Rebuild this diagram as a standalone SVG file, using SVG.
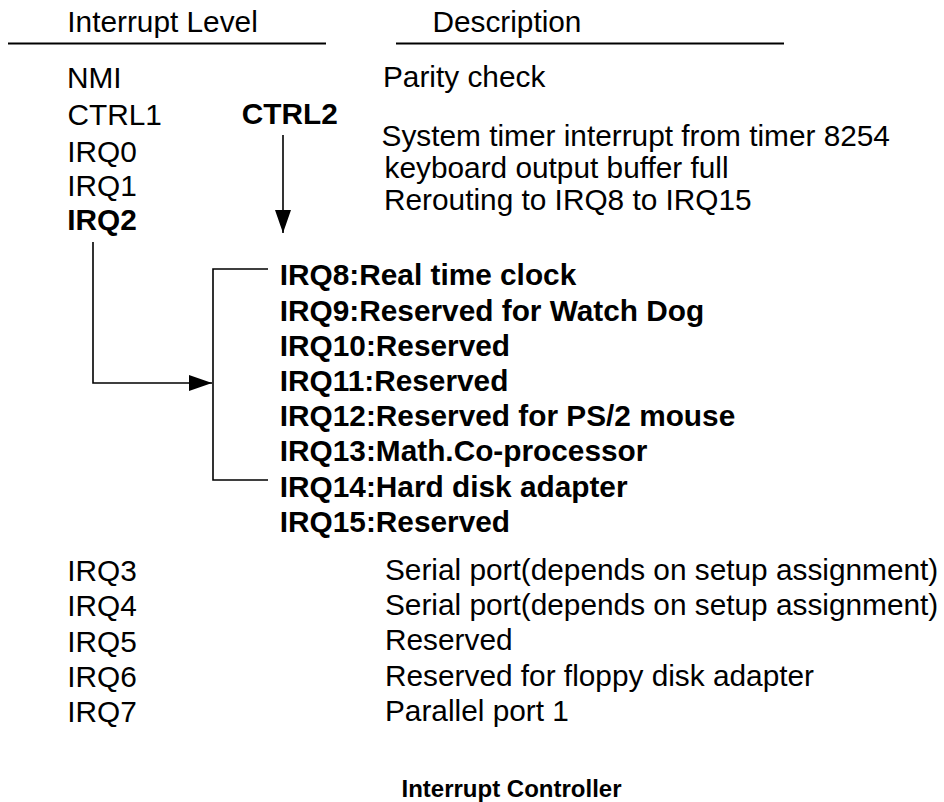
<svg xmlns="http://www.w3.org/2000/svg" width="944" height="802" viewBox="0 0 944 802">
  <style>
    text { font-family: "Liberation Sans", Arial, sans-serif; font-size: 29.8px; fill: #000; }
    .b { font-weight: bold; }
    .cap { font-weight: bold; font-size: 24px; }
    .rule { stroke: #000; stroke-width: 2; fill: none; }
    .wire { stroke: #000; stroke-width: 1.6; fill: none; }
  </style>
  <defs>
    <marker id="arrow" viewBox="0 0 23 16" refX="23" refY="8" markerWidth="23" markerHeight="16" markerUnits="userSpaceOnUse" orient="auto">
      <path d="M0,0 L23,8 L0,16 Z" fill="#000"/>
    </marker>
  </defs>
  <rect width="944" height="802" fill="#fff"/>

  <g id="header">
    <text x="67.3" y="32">Interrupt Level</text>
    <text x="432.4" y="32">Description</text>
    <line class="rule" x1="8" y1="43.5" x2="326" y2="43.5"/>
    <line class="rule" x1="396" y1="43.5" x2="784" y2="43.5"/>
  </g>

  <g id="nmi">
    <text x="67" y="88">NMI</text>
    <text x="383" y="87">Parity check</text>
  </g>
  <g id="ctrl1">
    <text x="67.5" y="125">CTRL1</text>
  </g>
  <g id="ctrl2">
    <text class="b" x="241.7" y="124">CTRL2</text>
  </g>
  <g id="irq0">
    <text x="67.3" y="162">IRQ0</text>
    <text x="381.6" y="146">System timer interrupt from timer 8254</text>
  </g>
  <g id="irq1">
    <text x="67.3" y="196">IRQ1</text>
    <text x="384.6" y="178">keyboard output buffer full</text>
  </g>
  <g id="irq2">
    <text class="b" x="67.3" y="230">IRQ2</text>
    <text x="384" y="210">Rerouting to IRQ8 to IRQ15</text>
  </g>

  <g id="slave">
    <text class="b" x="279.8" y="285">IRQ8:Real time clock</text>
    <text class="b" x="279.8" y="321">IRQ9:Reserved for Watch Dog</text>
    <text class="b" x="279.8" y="356">IRQ10:Reserved</text>
    <text class="b" x="279.8" y="391">IRQ11:Reserved</text>
    <text class="b" x="279.8" y="426">IRQ12:Reserved for PS/2 mouse</text>
    <text class="b" x="279.8" y="461">IRQ13:Math.Co-processor</text>
    <text class="b" x="279.8" y="497">IRQ14:Hard disk adapter</text>
    <text class="b" x="279.8" y="532">IRQ15:Reserved</text>
  </g>

  <g id="irq3">
    <text x="67.3" y="581">IRQ3</text>
    <text x="385" y="580">Serial port(depends on setup assignment)</text>
  </g>
  <g id="irq4">
    <text x="67.3" y="616">IRQ4</text>
    <text x="385" y="615">Serial port(depends on setup assignment)</text>
  </g>
  <g id="irq5">
    <text x="67.3" y="652">IRQ5</text>
    <text x="385" y="650">Reserved</text>
  </g>
  <g id="irq6">
    <text x="67.3" y="687">IRQ6</text>
    <text x="385" y="686">Reserved for floppy disk adapter</text>
  </g>
  <g id="irq7">
    <text x="67.3" y="722">IRQ7</text>
    <text x="385" y="721">Parallel port 1</text>
  </g>

  <g id="caption">
    <text class="cap" x="401.5" y="797">Interrupt Controller</text>
  </g>

  <g id="connectors">
    <path class="wire" d="M283,135 V233" marker-end="url(#arrow)"/>
    <path class="wire" d="M93,242 V383 H212" marker-end="url(#arrow)"/>
    <path class="wire" d="M268,269 H213 V480 H268"/>
  </g>
</svg>
